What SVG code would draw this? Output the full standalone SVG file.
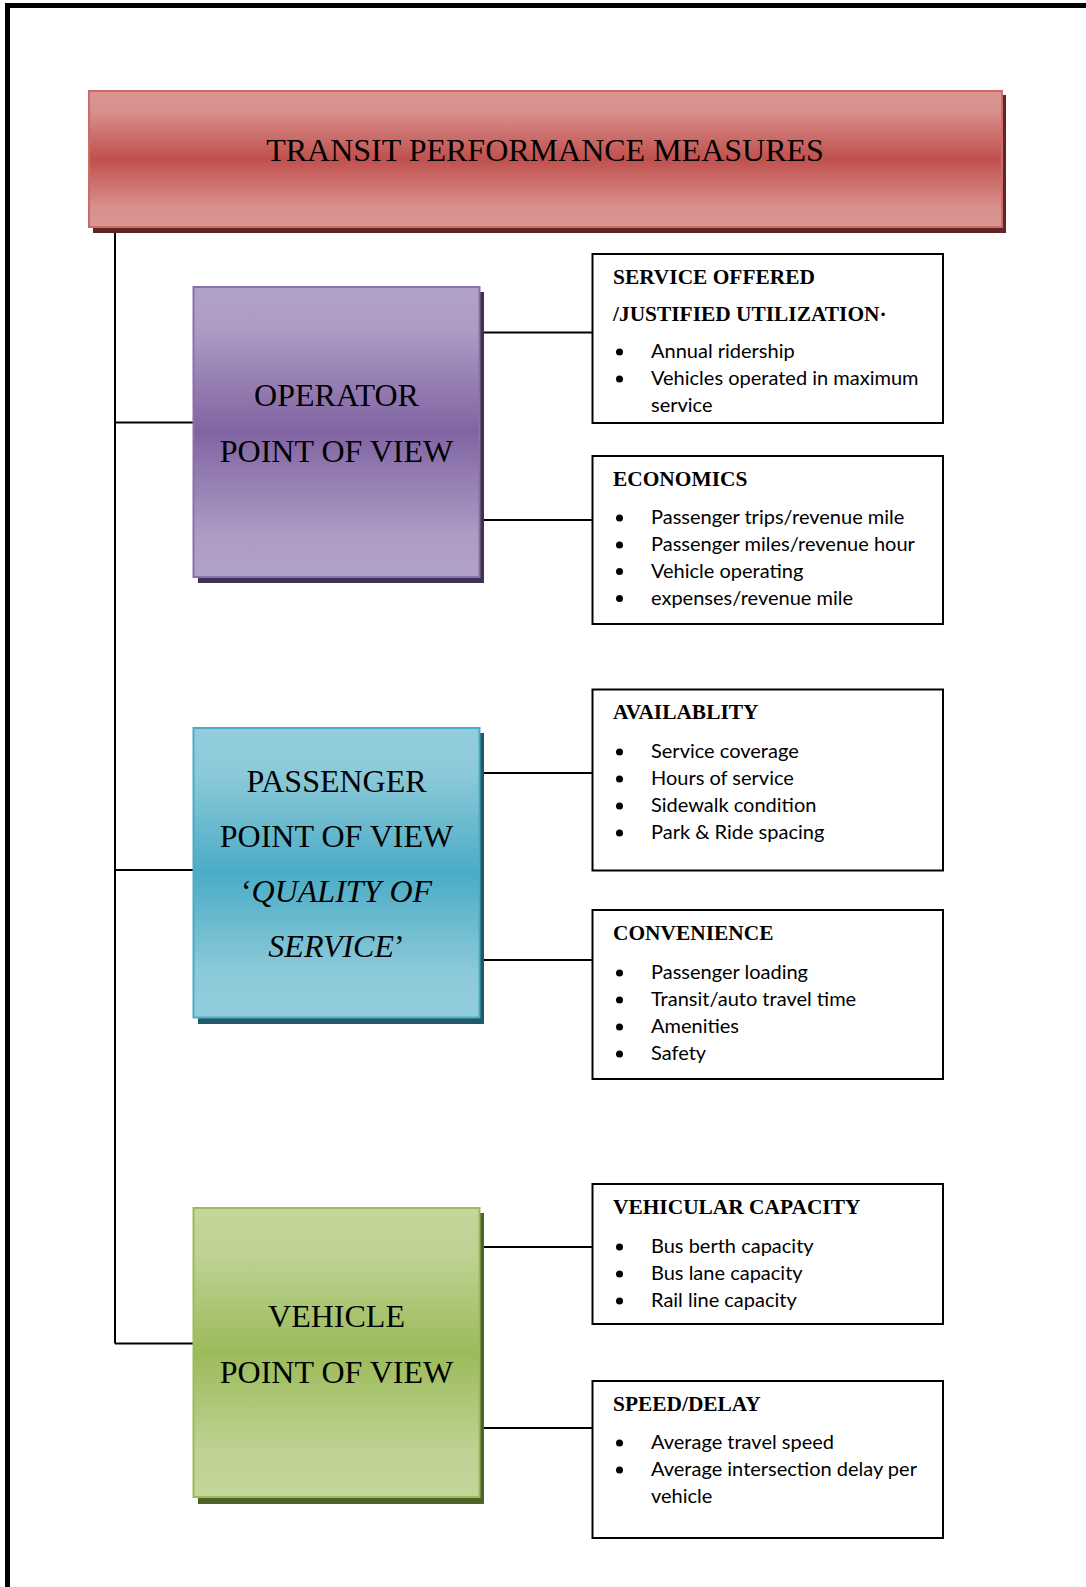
<svg xmlns="http://www.w3.org/2000/svg" width="1086" height="1587" viewBox="0 0 1086 1587">
<defs>
<linearGradient id="gRed" x1="0" y1="0" x2="0" y2="1">
<stop offset="0" stop-color="#da9694"/><stop offset="0.15" stop-color="#d88f8d"/><stop offset="0.5" stop-color="#c0504d"/><stop offset="0.85" stop-color="#d88f8d"/><stop offset="1" stop-color="#da9694"/>
</linearGradient>
<linearGradient id="gPurple" x1="0" y1="0" x2="0" y2="1">
<stop offset="0" stop-color="#b2a1c7"/><stop offset="0.15" stop-color="#ad9bc4"/><stop offset="0.5" stop-color="#8064a2"/><stop offset="0.85" stop-color="#ad9bc4"/><stop offset="1" stop-color="#b2a1c7"/>
</linearGradient>
<linearGradient id="gBlue" x1="0" y1="0" x2="0" y2="1">
<stop offset="0" stop-color="#93cddd"/><stop offset="0.15" stop-color="#8dcad9"/><stop offset="0.5" stop-color="#4bacc6"/><stop offset="0.85" stop-color="#8dcad9"/><stop offset="1" stop-color="#93cddd"/>
</linearGradient>
<linearGradient id="gGreen" x1="0" y1="0" x2="0" y2="1">
<stop offset="0" stop-color="#c3d69b"/><stop offset="0.15" stop-color="#bfd396"/><stop offset="0.5" stop-color="#9bbb59"/><stop offset="0.85" stop-color="#bfd396"/><stop offset="1" stop-color="#c3d69b"/>
</linearGradient>
<style>
.big{font-family:"Liberation Serif","Times New Roman",serif;font-size:32px;fill:#000;text-anchor:middle}
.ttl{font-family:"Liberation Serif","Times New Roman",serif;font-size:32px;fill:#000;text-anchor:middle}
.hd{font-family:"Liberation Serif","Times New Roman",serif;font-size:21.4px;font-weight:bold;fill:#000}
.it{font-family:Lato,"Open Sans",sans-serif;font-size:20px;fill:#000}
.bul{fill:#000}
.box{fill:#fff;stroke:#000;stroke-width:2}
.con{stroke:#000;stroke-width:2;fill:none}
</style>
</defs>
<rect width="1086" height="1587" fill="#fff"/>
<g id="page-border">
<rect x="5" y="3" width="1081" height="5" fill="#000"/>
<rect x="5" y="3" width="5" height="1584" fill="#000"/>
</g>
<g id="connectors">
<path class="con" d="M115 233 V1343.5 M115 422.5 H193 M115 870 H193 M115 1343.5 H193"/>
<path class="con" d="M484 332.5 H592 M484 520 H592 M484 773 H592 M484 960 H592 M484 1247 H592 M484 1428 H592"/>
</g>
<g id="title">
<rect x="93" y="95" width="913" height="138" fill="#632523"/>
<rect x="89" y="91" width="913" height="136" fill="url(#gRed)" stroke="#d06a67" stroke-width="2"/>
<text class="ttl" x="545" y="161">TRANSIT PERFORMANCE MEASURES</text>
</g>
<g id="operator">
<rect x="198" y="292" width="286" height="291" fill="#3f3151"/>
<rect x="193.5" y="287" width="286" height="290" fill="url(#gPurple)" stroke="#8a70ad" stroke-width="2"/>
<text class="big" x="336.5" y="406">OPERATOR</text>
<text class="big" x="336.5" y="461.5">POINT OF VIEW</text>
</g>
<g id="passenger">
<rect x="198" y="733" width="286" height="291" fill="#215968"/>
<rect x="193.5" y="728" width="286" height="289.5" fill="url(#gBlue)" stroke="#4bacc6" stroke-width="2"/>
<text class="big" x="336.5" y="792">PASSENGER</text>
<text class="big" x="336.5" y="846.5">POINT OF VIEW</text>
<text class="big" x="336.5" y="902">‘<tspan font-style="italic">QUALITY OF</tspan></text>
<text class="big" x="336.5" y="956.5"><tspan font-style="italic">SERVICE</tspan>’</text>
</g>
<g id="vehicle">
<rect x="198" y="1213" width="286" height="291" fill="#4f6228"/>
<rect x="193.5" y="1208" width="286" height="289" fill="url(#gGreen)" stroke="#9bbb59" stroke-width="2"/>
<text class="big" x="336.5" y="1326.5">VEHICLE</text>
<text class="big" x="336.5" y="1382.5">POINT OF VIEW</text>
</g>
<g id="service-offered">
<rect class="box" x="592.5" y="254" width="350.5" height="169"/>
<text class="hd" x="613" y="284">SERVICE OFFERED</text>
<text class="hd" x="613" y="321">/JUSTIFIED UTILIZATION·</text>
<circle class="bul" cx="619.5" cy="352" r="3.5"/><text class="it" x="651" y="358">Annual ridership</text>
<circle class="bul" cx="619.5" cy="379" r="3.5"/><text class="it" x="651" y="385">Vehicles operated in maximum</text>
<text class="it" x="651" y="411.5">service</text>
</g>
<g id="economics">
<rect class="box" x="592.5" y="456" width="350.5" height="168"/>
<text class="hd" x="613" y="485.5">ECONOMICS</text>
<circle class="bul" cx="619.5" cy="518" r="3.5"/><text class="it" x="651" y="524">Passenger trips/revenue mile</text>
<circle class="bul" cx="619.5" cy="545" r="3.5"/><text class="it" x="651" y="551">Passenger miles/revenue hour</text>
<circle class="bul" cx="619.5" cy="571.5" r="3.5"/><text class="it" x="651" y="577.5">Vehicle operating</text>
<circle class="bul" cx="619.5" cy="598.5" r="3.5"/><text class="it" x="651" y="604.5">expenses/revenue mile</text>
</g>
<g id="availability">
<rect class="box" x="592.5" y="689.5" width="350.5" height="181"/>
<text class="hd" x="613" y="719">AVAILABLITY</text>
<circle class="bul" cx="619.5" cy="752" r="3.5"/><text class="it" x="651" y="758">Service coverage</text>
<circle class="bul" cx="619.5" cy="779" r="3.5"/><text class="it" x="651" y="785">Hours of service</text>
<circle class="bul" cx="619.5" cy="806" r="3.5"/><text class="it" x="651" y="812">Sidewalk condition</text>
<circle class="bul" cx="619.5" cy="833" r="3.5"/><text class="it" x="651" y="839">Park &amp; Ride spacing</text>
</g>
<g id="convenience">
<rect class="box" x="592.5" y="910" width="350.5" height="169"/>
<text class="hd" x="613" y="940">CONVENIENCE</text>
<circle class="bul" cx="619.5" cy="973" r="3.5"/><text class="it" x="651" y="979">Passenger loading</text>
<circle class="bul" cx="619.5" cy="1000" r="3.5"/><text class="it" x="651" y="1006">Transit/auto travel time</text>
<circle class="bul" cx="619.5" cy="1027" r="3.5"/><text class="it" x="651" y="1033">Amenities</text>
<circle class="bul" cx="619.5" cy="1054" r="3.5"/><text class="it" x="651" y="1060">Safety</text>
</g>
<g id="vehicular-capacity">
<rect class="box" x="592.5" y="1184" width="350.5" height="140"/>
<text class="hd" x="613" y="1214">VEHICULAR CAPACITY</text>
<circle class="bul" cx="619.5" cy="1247" r="3.5"/><text class="it" x="651" y="1253">Bus berth capacity</text>
<circle class="bul" cx="619.5" cy="1274" r="3.5"/><text class="it" x="651" y="1280">Bus lane capacity</text>
<circle class="bul" cx="619.5" cy="1301" r="3.5"/><text class="it" x="651" y="1307">Rail line capacity</text>
</g>
<g id="speed-delay">
<rect class="box" x="592.5" y="1381" width="350.5" height="157"/>
<text class="hd" x="613" y="1410.5">SPEED/DELAY</text>
<circle class="bul" cx="619.5" cy="1443" r="3.5"/><text class="it" x="651" y="1449">Average travel speed</text>
<circle class="bul" cx="619.5" cy="1470" r="3.5"/><text class="it" x="651" y="1476">Average intersection delay per</text>
<text class="it" x="651" y="1503">vehicle</text>
</g>
</svg>
